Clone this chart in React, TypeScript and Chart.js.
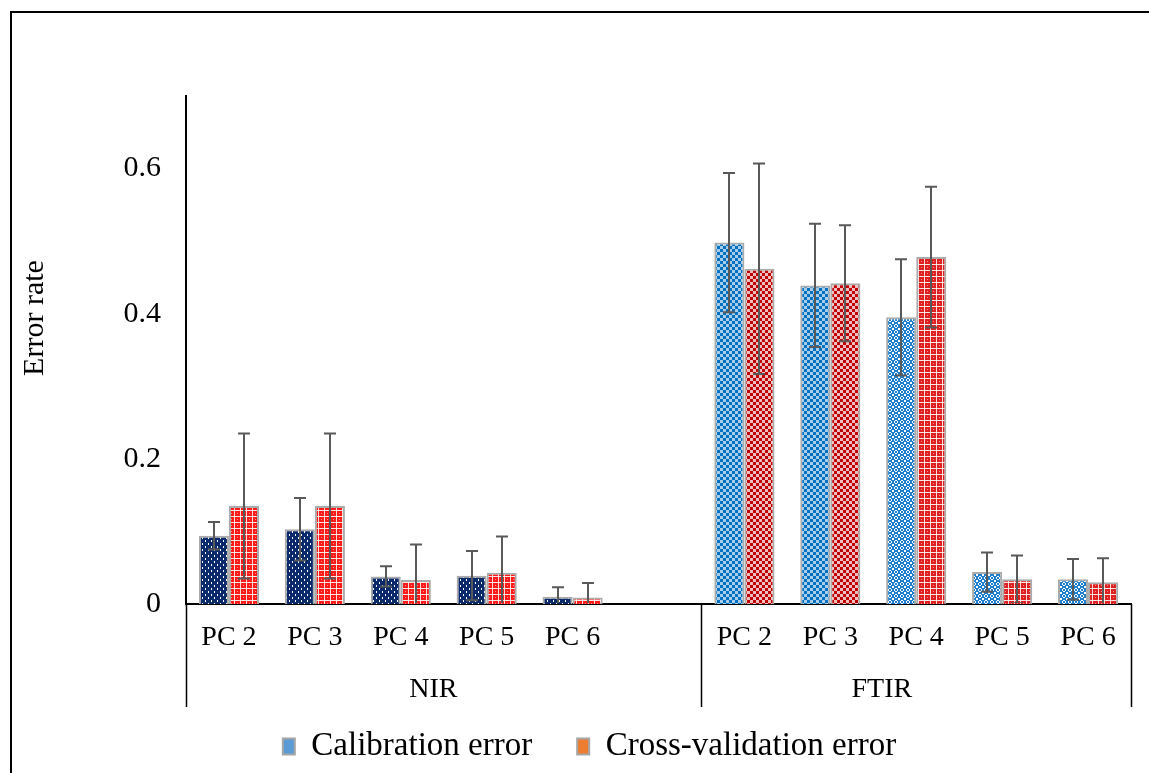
import React, { useEffect, useRef } from 'react';
import { Chart, registerables } from 'chart.js';

Chart.register(...registerables);

// ---- data ----
const categories = ['PC 2', 'PC 3', 'PC 4', 'PC 5', 'PC 6', '', 'PC 2', 'PC 3', 'PC 4', 'PC 5', 'PC 6'];
const groupLabels = ['NIR', 'FTIR'];
const groupSizes = [6, 5];
const seriesNames = ['Calibration error', 'Cross-validation error'];
const calibration = [0.094, 0.103, 0.038, 0.039, 0.01, null, 0.498, 0.439, 0.395, 0.044, 0.034];
const calibrationErr = [0.019, 0.043, 0.014, 0.034, 0.013, null, 0.096, 0.085, 0.08, 0.027, 0.028];
const crossValidation = [0.135, 0.135, 0.033, 0.043, 0.009, null, 0.462, 0.442, 0.478, 0.034, 0.03];
const crossValidationErr = [0.1, 0.1, 0.049, 0.05, 0.02, null, 0.145, 0.08, 0.097, 0.033, 0.033];
const yTicks = [0, 0.2, 0.4, 0.6];
const yMax = 0.7;
const yTitle = 'Error rate';

// ---- styles ----
const FONT = "'Liberation Serif', 'Times New Roman', serif";
const legendColors = ['#5b9bd5', '#ed7d31'];

function makePattern(bg: string, fg: string, kind: string): CanvasPattern | string {
  const c = document.createElement('canvas');
  const s = 6;
  c.width = s;
  c.height = s;
  const g = c.getContext('2d');
  if (!g) return bg;
  g.fillStyle = bg;
  g.fillRect(0, 0, s, s);
  g.fillStyle = fg;
  if (kind === 'checker') {
    g.fillRect(0, 0, 3, 3);
    g.fillRect(3, 3, 3, 3);
  } else if (kind === 'dash') {
    g.fillRect(1, 0, 1, 2);
    g.fillRect(4, 3, 1, 2);
  } else if (kind === 'plaid') {
    g.globalAlpha = 0.85;
    g.fillRect(0, 0, 6, 1);
    g.fillRect(0, 0, 1, 6);
    g.globalAlpha = 0.5;
    g.fillRect(3, 3, 1, 1);
    g.fillRect(2, 0, 2, 1);
  } else if (kind === 'ring') {
    g.fillRect(1, 0, 2, 1);
    g.fillRect(0, 1, 1, 2);
    g.fillRect(3, 1, 1, 2);
    g.fillRect(1, 3, 2, 1);
    g.fillRect(4, 4, 2, 2);
  }
  const p = g.createPattern(c, 'repeat');
  return p || bg;
}

const errorBarPlugin = {
  id: 'errorBars',
  afterDatasetsDraw(chart: any) {
    const { ctx, chartArea } = chart;
    const y = chart.scales.y;
    const errs = [calibrationErr, crossValidationErr];
    ctx.save();
    ctx.beginPath();
    ctx.rect(chartArea.left, chartArea.top - 20, chartArea.right - chartArea.left, chartArea.bottom - chartArea.top + 19);
    ctx.clip();
    ctx.strokeStyle = '#595959';
    ctx.lineWidth = 2;
    chart.data.datasets.forEach((ds: any, di: number) => {
      const meta = chart.getDatasetMeta(di);
      meta.data.forEach((el: any, i: number) => {
        const v = ds.data[i];
        const e = errs[di][i];
        if (v == null || e == null) return;
        const x = Math.round(el.x);
        const yt = y.getPixelForValue(v + e);
        const yb = y.getPixelForValue(v - e);
        ctx.beginPath();
        ctx.moveTo(x, yt);
        ctx.lineTo(x, yb);
        ctx.moveTo(x - 6, yt);
        ctx.lineTo(x + 6, yt);
        ctx.moveTo(x - 6, yb);
        ctx.lineTo(x + 6, yb);
        ctx.stroke();
      });
    });
    ctx.restore();
  },
};

const legendShiftPlugin = {
  id: 'legendShift',
  afterLayout(chart: any) {
    if (chart.legend) {
      chart.legend.left += 24;
      chart.legend.right += 24;
    }
  },
};

const decorPlugin = {
  id: 'decor',
  afterDraw(chart: any) {
    const { ctx, chartArea } = chart;
    const xs = chart.scales.x;
    ctx.save();
    // outer frame
    ctx.strokeStyle = '#000';
    ctx.lineWidth = 2;
    ctx.beginPath();
    ctx.moveTo(11, chart.height + 2);
    ctx.lineTo(11, 12);
    ctx.lineTo(chart.width + 2, 12);
    ctx.stroke();

    // group separators and labels
    const bottomY = 707;
    const bounds: number[] = [chartArea.left];
    let idx = 0;
    groupSizes.forEach((n, gi) => {
      idx += n;
      if (gi < groupSizes.length - 1) {
        bounds.push((xs.getPixelForValue(idx - 1) + xs.getPixelForValue(idx)) / 2);
      } else {
        bounds.push(chartArea.right);
      }
    });
    ctx.lineWidth = 1.5;
    ctx.beginPath();
    bounds.forEach((bx) => {
      const px = Math.round(bx) + 0.5;
      ctx.moveTo(px, chartArea.bottom);
      ctx.lineTo(px, bottomY);
    });
    ctx.stroke();

    const labelFrac = [0.48, 0.42];
    ctx.fillStyle = '#000';
    ctx.font = `28px ${FONT}`;
    ctx.textAlign = 'center';
    ctx.textBaseline = 'middle';
    groupLabels.forEach((lab, gi) => {
      const l = bounds[gi];
      const r = bounds[gi + 1];
      ctx.fillText(lab, l + (r - l) * labelFrac[gi], 690);
    });

    // y axis title
    ctx.translate(35, 318);
    ctx.rotate(-Math.PI / 2);
    ctx.font = `30px ${FONT}`;
    ctx.fillText(yTitle, 0, 0);
    ctx.restore();
  },
};

export default function App() {
  const ref = useRef<HTMLCanvasElement | null>(null);

  useEffect(() => {
    const canvas = ref.current;
    if (!canvas) return;
    const nirCal = makePattern('#0b2a6b', '#ffffff', 'dash');
    const nirCross = makePattern('#ff1a1a', '#ffffff', 'plaid');
    const ftCal = makePattern('#0070c0', 'rgba(255,255,255,0.65)', 'checker');
    const ftCalB = makePattern('#1f7fcc', '#ffffff', 'ring');
    const ftCross = makePattern('#c00000', 'rgba(255,255,255,0.75)', 'checker');
    const ftCrossB = makePattern('#e02020', '#ffffff', 'plaid');
    const calFill = categories.map((_, i) => (i < 6 ? nirCal : i < 8 ? ftCal : ftCalB));
    const crossFill = categories.map((_, i) => (i < 6 ? nirCross : i < 8 ? ftCross : ftCrossB));

    const chart = new Chart(canvas, {
      type: 'bar',
      data: {
        labels: categories,
        datasets: [
          {
            label: seriesNames[0],
            data: calibration as any,
            backgroundColor: calFill as any,
            borderColor: '#ababab',
            borderWidth: 2,
            borderSkipped: 'start',
            categoryPercentage: 0.7,
            barPercentage: 1.0,
          },
          {
            label: seriesNames[1],
            data: crossValidation as any,
            backgroundColor: crossFill as any,
            borderColor: '#ababab',
            borderWidth: 2,
            borderSkipped: 'start',
            categoryPercentage: 0.7,
            barPercentage: 1.0,
          },
        ],
      },
      options: {
        responsive: false,
        animation: false,
        layout: { padding: { top: 96, left: 0, right: 18, bottom: 0 } },
        plugins: {
          tooltip: { enabled: false },
          title: { display: false },
          legend: {
            position: 'bottom',
            labels: {
              boxWidth: 12,
              boxHeight: 16,
              padding: 45,
              color: '#000',
              font: { family: FONT, size: 33 },
              generateLabels: () =>
                seriesNames.map((n, i) => ({
                  text: n,
                  fillStyle: legendColors[i],
                  strokeStyle: '#a6a6a6',
                  lineWidth: 2,
                  hidden: false,
                  datasetIndex: i,
                  fontColor: '#000',
                })),
            },
          },
        },
        scales: {
          x: {
            grid: { display: false, drawTicks: false },
            border: { display: true, color: '#000', width: 2 },
            ticks: {
              color: '#000',
              font: { family: FONT, size: 28 },
              padding: 17,
              autoSkip: false,
              maxRotation: 0,
            },
            afterFit: (s: any) => {
              s.height = 81;
            },
          },
          y: {
            min: 0,
            max: yMax,
            grid: { display: false, drawTicks: false },
            border: { display: true, color: '#000', width: 2 },
            ticks: {
              color: '#000',
              font: { family: FONT, size: 30 },
              padding: 25,
              callback: (v: any) => String(Math.round(Number(v) * 10) / 10),
            },
            afterBuildTicks: (s: any) => {
              s.ticks = yTicks.map((v) => ({ value: v }));
            },
            afterFit: (s: any) => {
              s.width = 186;
            },
          },
        },
      },
      plugins: [errorBarPlugin, legendShiftPlugin, decorPlugin],
    });
    return () => chart.destroy();
  }, []);

  return (
    <div style={{ position: 'absolute', left: 0, top: 0, width: 1149, height: 773, background: '#fff' }}>
      <canvas ref={ref} width={1149} height={773} style={{ display: 'block' }} />
    </div>
  );
}
